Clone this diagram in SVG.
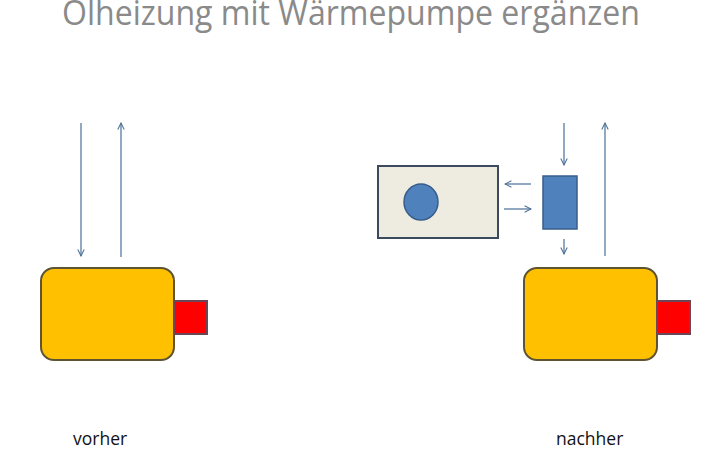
<svg xmlns="http://www.w3.org/2000/svg" width="716" height="450" viewBox="0 0 716 450">
<style>
.title{font-family:"Open Sans","Noto Sans",sans-serif;font-size:35px;fill:#8a8a8a}
.lbl{font-family:"Open Sans","Noto Sans",sans-serif;font-size:17.5px;fill:#111}
.boiler{fill:#FFC000;stroke:#5e5432;stroke-width:2}
.burner{fill:#FF0000;stroke:#6a4656;stroke-width:2}
.arr{stroke:#4a6f97;stroke-width:1.2;fill:none;marker-end:url(#ah)}
</style>
<defs>
<marker id="ah" viewBox="0 0 10 10" refX="9" refY="5" markerWidth="8" markerHeight="8" markerUnits="userSpaceOnUse" orient="auto">
<polyline points="1,1 9,5 1,9" fill="none" stroke="#4a6f97" stroke-width="1.3"/>
</marker>
</defs>
<rect width="716" height="450" fill="#fff"/>
<text class="title" x="62" y="25" textLength="578" lengthAdjust="spacingAndGlyphs">Ölheizung mit Wärmepumpe ergänzen</text>
<g id="boiler-vorher">
<rect class="boiler" x="41" y="268" width="133" height="92" rx="13"/>
<rect class="burner" x="174" y="301" width="33" height="33"/>
</g>
<g id="boiler-nachher">
<rect class="boiler" x="524" y="268" width="133" height="92" rx="13"/>
<rect class="burner" x="657" y="301" width="33" height="33"/>
</g>
<g id="speicher">
<rect x="378" y="166" width="120" height="72" fill="#EEECE1" stroke="#3c4a5e" stroke-width="2"/>
<ellipse cx="421" cy="202" rx="17" ry="18" fill="#4F81BD" stroke="#385D8A" stroke-width="1.5"/>
</g>
<g id="waermepumpe">
<rect x="543" y="176" width="34" height="53" fill="#4F81BD" stroke="#385D8A" stroke-width="1.5"/>
</g>
<g id="connectors">
<line class="arr" x1="81" y1="123" x2="81" y2="256"/>
<line class="arr" x1="121" y1="257" x2="121" y2="123"/>
<line class="arr" x1="531" y1="184" x2="505" y2="184"/>
<line class="arr" x1="504" y1="209" x2="531" y2="209"/>
<line class="arr" x1="564" y1="123" x2="564" y2="165"/>
<line class="arr" x1="564" y1="239" x2="564" y2="254"/>
<line class="arr" x1="605" y1="256" x2="605" y2="123"/>
</g>
<text class="lbl" x="73" y="445">vorher</text>
<text class="lbl" x="556" y="445">nachher</text>
</svg>
